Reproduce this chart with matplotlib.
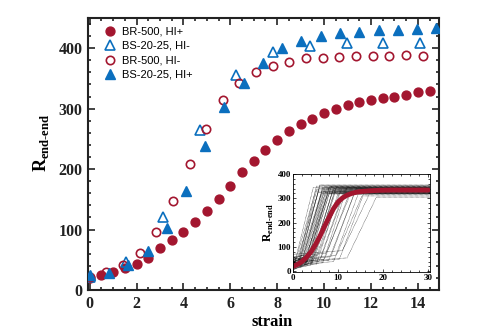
import numpy as np
import matplotlib
matplotlib.use('Agg')
import matplotlib.pyplot as plt
from matplotlib.ticker import MultipleLocator

plt.rcParams['mathtext.fontset'] = 'custom'
plt.rcParams['mathtext.rm'] = 'Liberation Serif:bold'
plt.rcParams['mathtext.bf'] = 'Liberation Serif:bold'

# ---- main panel data ----
br_hip_x = np.arange(0, 14.51, 0.5)
br_hip_y = [20, 25, 29, 36, 43, 53, 69, 83, 96, 113, 131, 150, 172, 196,
            214, 232, 248, 263, 274, 283, 293, 300, 306, 311, 315, 318, 320, 323, 327, 329]

bs_him_x = [0, 1.57, 3.13, 4.70, 6.26, 7.83, 9.39, 10.96, 12.52, 14.09]
bs_him_y = [22, 46, 121, 264, 355, 393, 404, 408, 409, 409]

br_him_x = [0, 0.71, 1.42, 2.13, 2.84, 3.55, 4.26, 4.97, 5.68, 6.39, 7.10,
            7.81, 8.52, 9.23, 9.94, 10.65, 11.36, 12.07, 12.78, 13.49, 14.20]
br_him_y = [22, 29, 41, 62, 96, 148, 208, 267, 314, 342, 361,
            371, 378, 384, 384, 385, 387, 387, 387, 388, 387]

bs_hip_x = [0, 0.82, 1.64, 2.47, 3.29, 4.11, 4.93, 5.75, 6.57, 7.39, 8.21,
            9.03, 9.86, 10.68, 11.50, 12.32, 13.14, 13.96, 14.78]
bs_hip_y = [25, 28, 41, 65, 102, 164, 238, 302, 343, 375, 400,
            412, 420, 425, 427, 430, 430, 431, 433]

labels = ['BR-500, HI+', 'BS-20-25, HI-', 'BR-500, HI-', 'BS-20-25, HI+']

# ---- inset data ----
mean_x = [0, 1, 2, 3, 4, 5, 6, 7, 8, 9, 10, 11, 12, 13, 14, 15, 17, 19, 22, 26, 30]
mean_y = [20, 28, 40, 58, 80, 110, 145, 185, 222, 258, 285, 302, 313, 320, 325, 328, 331, 333, 334, 334, 334]

# each single-run trace: flat start, rise between start and end, then plateau
trace_start = [0.3, 0.6, 0.9, 1.1, 1.3, 1.5, 1.7, 1.9, 2.0, 2.2, 2.4, 2.5, 2.7, 2.9,
               3.0, 3.2, 3.4, 3.6, 3.8, 4.0, 4.3, 4.6, 4.9, 5.2, 5.5, 5.8, 6.2,
               6.6, 7.0, 7.4, 7.9, 8.4, 9.0, 9.6, 10.3, 11.0, 12.0,
               1.0, 1.6, 2.1, 2.6, 3.1, 3.5, 4.1, 4.7]
trace_end = [4.5, 5.0, 5.2, 5.6, 5.8, 6.0, 6.3, 6.5, 6.6, 6.9, 7.0, 7.2, 7.4, 7.6,
             7.8, 8.0, 8.2, 8.5, 8.7, 9.0, 9.3, 9.6, 10.0, 10.4, 10.8, 11.2, 11.6,
             12.0, 12.5, 13.0, 13.5, 14.0, 14.6, 15.3, 16.0, 17.0, 18.5,
             5.3, 5.9, 6.4, 7.1, 7.7, 8.1, 8.8, 9.4]
trace_base = [15, 30, 10, 45, 20, 35, 5, 25, 50, 15, 40, 10, 30, 20,
              55, 25, 15, 40, 10, 35, 20, 45, 30, 15, 50, 25, 40,
              20, 35, 60, 30, 45, 25, 50, 35, 70, 40,
              12, 28, 38, 8, 22, 48, 18, 33]
trace_top = [345, 330, 350, 325, 340, 355, 320, 335, 345, 330, 350, 325, 340, 335,
             320, 345, 330, 350, 325, 340, 335, 345, 320, 330, 340, 325, 335,
             345, 320, 330, 315, 340, 325, 310, 335, 320, 305,
             338, 352, 328, 343, 318, 348, 333, 327]

red = '#a3162f'
blue = '#0b6fbe'

fig = plt.figure(figsize=(4.79, 3.35), dpi=100)
ax = fig.add_axes([0.1837, 0.1343, 0.7328, 0.812])

ax.plot(br_hip_x, br_hip_y, 'o', color=red, ms=6.4, mec=red, label=labels[0], zorder=3)
ax.plot(bs_him_x, bs_him_y, '^', color=blue, mfc='none', ms=6.6, mew=1.2, label=labels[1], zorder=4)
ax.plot(br_him_x, br_him_y, 'o', color=red, mfc='none', ms=6.0, mew=1.2, label=labels[2], zorder=4)
ax.plot(bs_hip_x, bs_hip_y, '^', color=blue, ms=6.8, label=labels[3], zorder=5)

ax.set_xlim(-0.07, 14.9)
ax.set_ylim(0, 450)
ax.xaxis.set_major_locator(MultipleLocator(2))
ax.xaxis.set_minor_locator(MultipleLocator(0.5))
ax.yaxis.set_major_locator(MultipleLocator(100))
ax.yaxis.set_minor_locator(MultipleLocator(20))
ax.tick_params(which='both', direction='in', top=True, right=True, width=1.2, colors='#222222')
ax.tick_params(which='major', length=5, pad=4)
ax.tick_params(which='minor', length=2.5)
for lab in ax.get_xticklabels() + ax.get_yticklabels():
    lab.set_fontfamily('Liberation Serif')
    lab.set_fontweight('bold')
    lab.set_fontsize(11.5)
for s in ax.spines.values():
    s.set_linewidth(1.5)
    s.set_color('#222222')

ax.set_xlabel('strain', fontfamily='Liberation Serif', fontweight='bold', fontsize=12)
ax.xaxis.set_label_coords(0.524, -0.088)
ax.set_ylabel(r'$\mathrm{R}_{\mathrm{end‐end}}$', fontsize=13)
ax.yaxis.set_label_coords(-0.105, 0.54)

ax.legend(loc='upper left', bbox_to_anchor=(0.03, 0.985), frameon=False,
          prop={'family': 'Liberation Sans', 'size': 8}, handletextpad=0.5,
          labelspacing=0.4, borderaxespad=0, handlelength=1.2)

# ---- inset ----
axi = fig.add_axes([0.6117, 0.188, 0.286, 0.2925])
for s0, s1, b0, t0 in zip(trace_start, trace_end, trace_base, trace_top):
    axi.plot([0, s0, s1, 30.4], [b0, b0 + 15, t0, t0], color='black', lw=0.4,
             ls=(0, (1, 1.2)))
axi.plot(mean_x, mean_y, '-', color=red, lw=3.5, solid_capstyle='round')
axi.set_xlim(0, 30.4)
axi.set_ylim(-3, 400)
axi.xaxis.set_major_locator(MultipleLocator(10))
axi.xaxis.set_minor_locator(MultipleLocator(2))
axi.yaxis.set_major_locator(MultipleLocator(100))
axi.yaxis.set_minor_locator(MultipleLocator(20))
axi.tick_params(which='both', direction='in', top=True, right=True, width=0.5, pad=1.5)
axi.tick_params(which='major', length=2.5)
axi.tick_params(which='minor', length=1.2)
for lab in axi.get_xticklabels() + axi.get_yticklabels():
    lab.set_fontfamily('Liberation Serif')
    lab.set_fontweight('bold')
    lab.set_fontsize(6.5)
for s in axi.spines.values():
    s.set_linewidth(0.6)
axi.set_ylabel(r'$\mathrm{R}_{\mathrm{end‐end}}$', fontsize=8.5, labelpad=1)

fig.savefig('out.png', dpi=100)
